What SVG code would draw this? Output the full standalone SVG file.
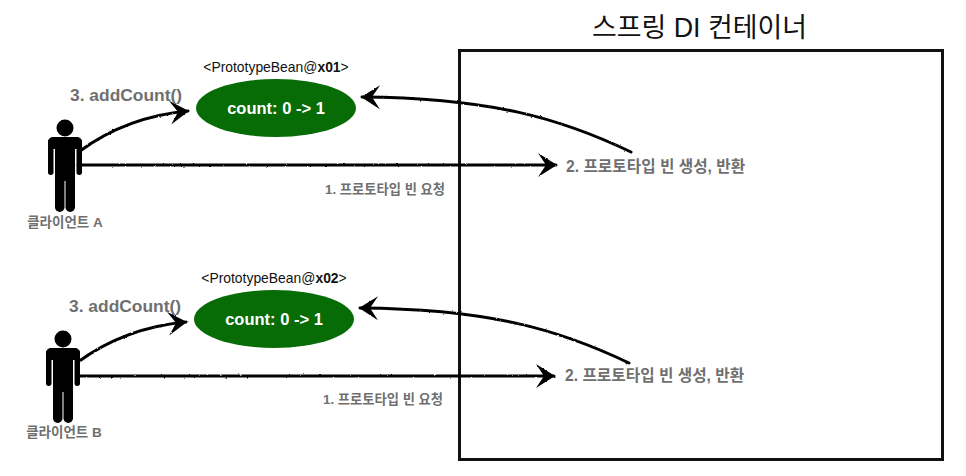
<svg xmlns="http://www.w3.org/2000/svg" width="966" height="476" viewBox="0 0 966 476">
<style>
text{font-family:"Liberation Sans","Noto Sans CJK KR",sans-serif}
.g{fill:#6f6f6f;font-weight:700}
.c{fill:#fff;font-weight:700;font-size:16.500px;text-anchor:middle}
.b{fill:#111;font-size:13.900px;text-anchor:middle}
.w{fill:none;stroke:#000;stroke-width:3;stroke-linecap:round;marker-end:url(#arrow)}
</style>
<defs>
<filter id="rough" x="-5%" y="-30%" width="110%" height="160%" filterUnits="objectBoundingBox"><feTurbulence type="fractalNoise" baseFrequency="0.35" numOctaves="2" seed="4"/><feDisplacementMap in="SourceGraphic" scale="2" xChannelSelector="R" yChannelSelector="G"/></filter>
<marker id="arrow" markerUnits="userSpaceOnUse" markerWidth="28" markerHeight="28" refX="21" refY="13" orient="auto" viewBox="0 0 28 28"><path d="M3 1L22 13L3 25L11 13z" fill="#000"/></marker>
<g id="person"><circle cx="0" cy="-38" r="8.500"/><rect x="-17" y="-29" width="34" height="12" rx="5"/><rect x="-17" y="-27" width="5.500" height="36" rx="2.700"/><rect x="11.500" y="-27" width="5.500" height="36" rx="2.700"/><rect x="-10" y="-29" width="20" height="44"/><rect x="-10" y="0" width="9.500" height="46" rx="4.700"/><rect x="0.500" y="0" width="9.500" height="46" rx="4.700"/></g>
</defs>
<rect id="container" x="459.500" y="50.500" width="483" height="409" fill="none" stroke="#111" stroke-width="3"/>
<text id="title" x="699.500" y="37" font-size="26.900" text-anchor="middle" fill="#111">스프링 DI 컨테이너</text>
<g id="connectors" filter="url(#rough)">
<path class="w" d="M80 151C110 129 145 115 188 111"/>
<path class="w" d="M78 165H556"/>
<path class="w" d="M631 152C560 118 490 98 362 97"/>
<path class="w" d="M78 362C108 340 143 326 186 322"/>
<path class="w" d="M77 376H554"/>
<path class="w" d="M629 363C558 329 488 309 360 308"/>
</g>
<g id="clientA"><use href="#person" transform="translate(65 166)"/><text class="g" x="65" y="227" font-size="13.500" text-anchor="middle">클라이언트 A</text></g>
<g id="clientB"><use href="#person" transform="translate(63 377)"/><text class="g" x="64" y="437" font-size="13.500" text-anchor="middle">클라이언트 B</text></g>
<g id="beanA"><text class="b" x="276" y="72">&lt;PrototypeBean@<tspan font-weight="700">x01</tspan>&gt;</text><ellipse cx="276" cy="108" rx="80" ry="29" fill="#086c06"/><text class="c" x="276" y="114">count: 0 -&gt; 1</text></g>
<g id="beanB"><text class="b" x="274" y="283">&lt;PrototypeBean@<tspan font-weight="700">x02</tspan>&gt;</text><ellipse cx="274" cy="319" rx="80" ry="29" fill="#086c06"/><text class="c" x="274" y="325">count: 0 -&gt; 1</text></g>
<g id="labels">
<text class="g" x="70" y="101" font-size="17.400">3. addCount()</text>
<text class="g" x="69" y="312" font-size="17.400">3. addCount()</text>
<text class="g" x="325" y="194" font-size="13.300">1. 프로토타입 빈 요청</text>
<text class="g" x="323" y="404" font-size="13.300">1. 프로토타입 빈 요청</text>
<text class="g" x="566" y="172" font-size="15.700">2. 프로토타입 빈 생성, 반환</text>
<text class="g" x="565" y="381" font-size="15.700">2. 프로토타입 빈 생성, 반환</text>
</g>
</svg>
